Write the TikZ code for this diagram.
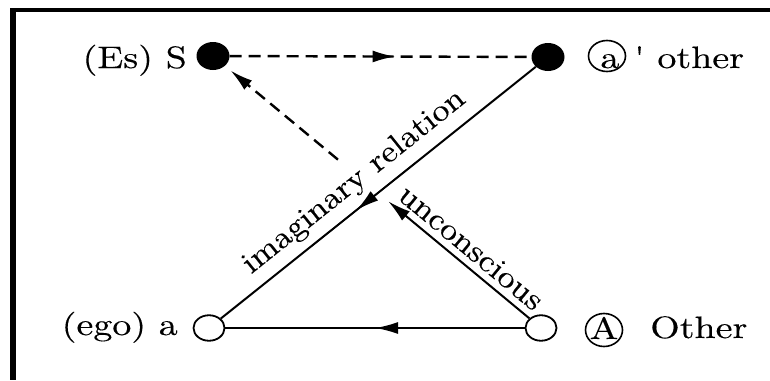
\documentclass[tikz,border=0pt]{standalone}
\usepackage{fontspec}
\newfontfamily\lblfont{lmroman10-regular.otf}[FakeBold=0.25]
\usetikzlibrary{arrows.meta,shapes.geometric,decorations.markings,calc}
\newcommand{\hx}[1]{\scalebox{3.8}[3.1]{#1}}
\newcommand{\rx}[1]{\scalebox{3.44}[3.1]{#1}}
\begin{document}
\begin{tikzpicture}[x=1pt,y=-1pt,
  dotf/.style={ellipse,fill=black,minimum width=33pt,minimum height=28pt,inner sep=0pt},
  doto/.style={ellipse,draw,line width=1.8pt,minimum width=31pt,minimum height=25.5pt,inner sep=0pt},
  ring/.style={ellipse,draw,line width=1.6pt,inner sep=0pt},
  lbl/.style={font=\lblfont\fontsize{10}{12}\selectfont,inner sep=0pt},
  conn/.style={line width=2pt},
  dconn/.style={line width=2.4pt,dash pattern=on 12pt off 7pt},
  tipend/.style={-{Latex[length=23pt,width=12pt]}},
  midarrow/.style={postaction={decorate},decoration={markings,mark=at position #1 with {\arrow{Latex[length=23pt,width=12pt]}}}},
]
\useasboundingbox (0,0) rectangle (770,380);
\fill[white] (0,0) rectangle (770,380);
% frame
\draw[line width=6pt] (13,8) -- (13,380);
\draw[line width=4.2pt] (10,10.3) -- (770,10.3);
% nodes
\node[dotf] (S) at (213,56) {};
\node[dotf] (ao) at (548,57) {};
\node[doto] (ego) at (209,328) {};
\node[doto] (A) at (541,328) {};
% labels
\node[lbl,anchor=base east] (lS) at (187,68) {\hx{(Es) S}};
\node[ring,minimum width=37pt,minimum height=31pt] (ca) at (607,56) {};
\node[lbl,anchor=base] (la) at (610,68) {\hx{a}};
\node[lbl,anchor=base west] (lao) at (634,68) {\hx{\textquotesingle\ other}};
\node[lbl,anchor=base east] (lego) at (178,335) {\hx{(ego) a}};
\node[ring,minimum width=37pt,minimum height=33pt] (cA) at (604,330) {};
\node[lbl,anchor=base] (lA) at (604,339) {\hx{A}};
\node[lbl,anchor=base west] (lOther) at (650,338) {\hx{Other}};
\node[lbl,anchor=base,rotate=38.7] (limag) at (359,188) {\rx{imaginary relation}};
\node[lbl,anchor=base,rotate=-39.7] (lunc) at (465,255) {\rx{unconscious}};
% connectors
\draw[dconn,midarrow=0.55] (S) -- (ao);
\draw[conn,midarrow=0.57] (ao) -- (ego);
\draw[conn,midarrow=0.5] (A) -- (ego);
\coordinate (X1) at ($(A)!0.466!(S)$);
\coordinate (X2) at ($(A)!0.619!(S)$);
\draw[conn,tipend] (A) -- (X1);
\draw[dconn,tipend,shorten >=7pt] (X2) -- (S);
\end{tikzpicture}
\end{document}
